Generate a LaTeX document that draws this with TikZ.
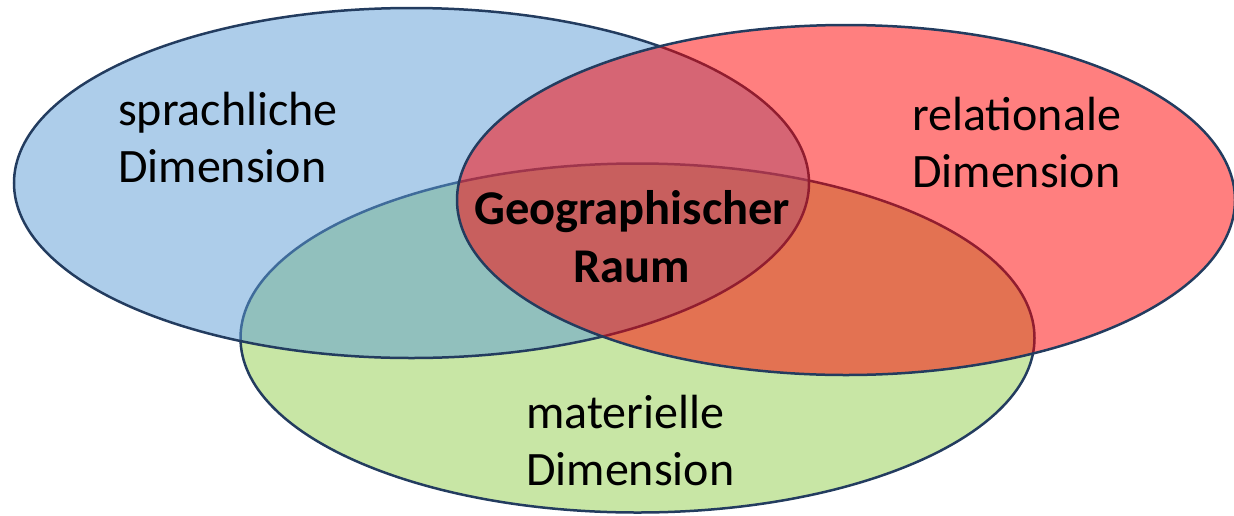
\documentclass[tikz,border=0pt]{standalone}
\usepackage{fontspec}
\setmainfont{Carlito}
\definecolor{outl}{RGB}{35,60,95}
\definecolor{bluefill}{RGB}{91,155,213}
\definecolor{redfill}{RGB}{255,0,0}
\definecolor{greenfill}{RGB}{200,230,165}
\tikzset{
  setshape/.style={draw=outl, line width=2.5pt},
  label/.style={inner sep=0pt, font=\fontsize{48}{57}\selectfont},
}
\begin{document}
\begin{tikzpicture}[x=1pt,y=-1pt]
\useasboundingbox (0,0) rectangle (1234,515);
% green (bottom)
\path[setshape, fill=greenfill] (637.5,338) ellipse [x radius=397pt, y radius=174.5pt];
% blue
\path[setshape, fill=bluefill, fill opacity=0.5] (411.5,183) ellipse [x radius=397.5pt, y radius=175pt];
% red (top)
\path[setshape, fill=redfill, fill opacity=0.5] (846,200) ellipse [x radius=389pt, y radius=175pt];
% labels (base anchor = baseline of last line)
\node[label, anchor=base west, align=left] (spr) at (118,182) {sprachliche\\Dimension};
\node[label, anchor=base west, align=left] (rel) at (912,187) {relationale\\Dimension};
\node[label, anchor=base west, align=left] (mat) at (526,485) {materielle\\Dimension};
\node[label, anchor=base, align=center, font=\fontsize{48.5}{58}\selectfont\bfseries] (geo) at (632,282) {Geographischer\\Raum};
\end{tikzpicture}
\end{document}
